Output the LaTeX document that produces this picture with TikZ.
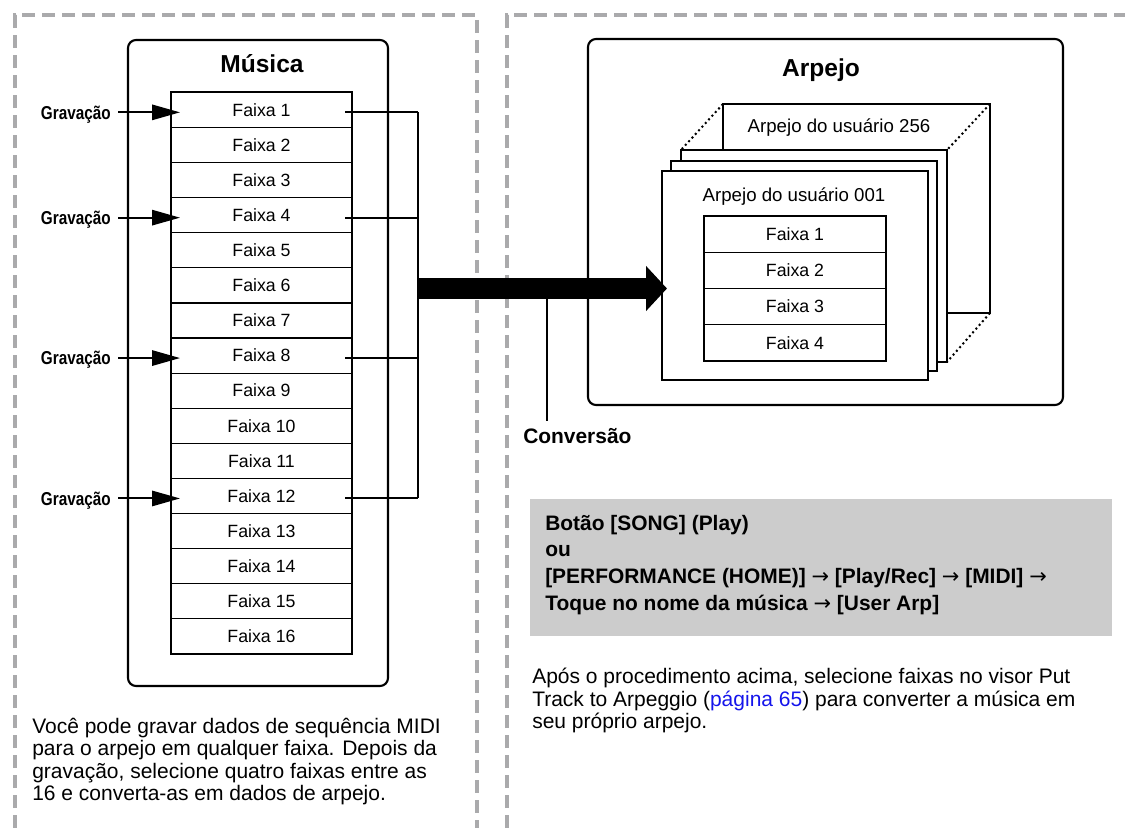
\documentclass[tikz,border=0pt]{standalone}
\usepackage{fontspec}
\usepackage{graphicx}
\setmainfont{Liberation Sans}
\newfontfamily\arrowfont{DejaVu Sans}
\usetikzlibrary{arrows.meta,calc}
\definecolor{framegray}{RGB}{170,170,172}
\definecolor{boxgray}{RGB}{204,204,204}
\definecolor{linkblue}{RGB}{20,20,235}
\newcommand\myfs[1]{\fontsize{#1}{#1}\selectfont}
\newcommand\myarr{{\arrowfont\mdseries →}}
\begin{document}
\begin{tikzpicture}[x=0.75pt,y=-0.75pt,
  frame/.style={draw=framegray, line width=3pt, dash pattern=on 10pt off 5pt},
  panel/.style={draw, line width=1.6pt, rounded corners=6pt, inner sep=0pt, outer sep=0pt},
  cell/.style={draw, line width=0.9pt, minimum width=135.75pt, minimum height=26.33pt, inner sep=0pt, outer sep=0pt, font=\myfs{13.3pt}},
  acell/.style={draw, line width=0.9pt, minimum width=136.5pt, minimum height=27.2pt, inner sep=0pt, outer sep=0pt, font=\myfs{13.3pt}},
  card/.style={draw, fill=white, line width=1.7pt, inner sep=0pt, outer sep=0pt, minimum width=199.5pt},
  cardtext/.style={font=\myfs{14pt}, inner sep=0pt, anchor=base},
  title/.style={font=\bfseries\myfs{18.4pt}, inner sep=0pt, anchor=base},
  grav/.style={font=\bfseries\myfs{14pt}, inner sep=0pt, anchor=east, text height=10pt, text depth=0pt},
  gravarrow/.style={line width=1.5pt, -{Triangle[length=21pt,width=11.5pt]}},
  link/.style={line width=1.5pt},
  bigarrow/.style={line width=15.75pt, -{Triangle[length=15.75pt,width=33pt]}},
  dots/.style={line width=1.5pt, dash pattern=on 1.5pt off 2.2pt},
  body/.style={font=\myfs{15.75pt}, inner sep=0pt, anchor=base west},
  steptext/.style={font=\bfseries\myfs{15.7pt}, inner sep=0pt, anchor=base west}
]
\useasboundingbox (0,0) rectangle (1125,828);

% dashed frames
\draw[frame] (15,828) -- (15,15) -- (477,15) -- (477,828);
\draw[frame] (507,828) -- (507,15) -- (1125,15);

% left panel
\node[panel, minimum width=195pt, minimum height=484.5pt] (musica) at (258,363) {};
\node[title] (musicatitle) at (262,72) {Música};
\foreach \i in {1,...,16} {
  \node[cell] (t\i) at (261.5,{92.3+35.1*(\i-0.5)}) {Faixa \i};
}
\draw[line width=1.4pt] (t1.north west) rectangle (t16.south east);

\foreach \i in {1,4,8,12} {
  \node[grav] (g\i) at (111,{92.3+35.1*(\i-0.5)+2.5}) {\scalebox{0.82}[1]{Gravação}};
  \draw[gravarrow] ($(g\i.east)+(7,0)$) -- ($(t\i.west |- g\i.east)+(9,0)$);
  \coordinate (b\i) at (418,{92.3+35.1*(\i-0.5)+2.5});
  \draw[link] ($(t\i.east |- b\i)+(-7,0)$) -- (b\i);
}
\draw[link] (b1) -- (b12);

% right panel
\node[panel, minimum width=356.25pt, minimum height=274.5pt] (arpejo) at (825.5,222) {};
\node[title] (arpejotitle) at (821,76) {Arpejo};

\node[card, minimum width=200.25pt, minimum height=156.75pt] (c256) at (856.5,208.5) {};
\node[cardtext] (c256t) at (839,132) {Arpejo do usuário 256};
\node[card, minimum height=159pt] (c3) at (814,256) {};
\node[card, minimum height=157.5pt] (c2) at (804,266) {};
\node[card, minimum height=156.75pt] (c001) at (795,275.5) {};
\node[cardtext] (c001t) at (794,201) {Arpejo do usuário 001};
\draw[dots] (c256.north west) -- (c3.north west);
\draw[dots] (c256.north east) -- (c3.north east);
\draw[dots] (c256.south east) -- (c3.south east);

\foreach \i in {1,...,4} {
  \node[acell] (a\i) at (795,{216+36.25*(\i-0.5)}) {Faixa \i};
}

% conversion arrow
\coordinate (bx) at (418,288.5);
\draw[bigarrow] (bx) -- ($(c001.west |- bx)+(5,0)$);
\coordinate (cv) at (547,288.5);
\coordinate (cvend) at (547,421);
\draw[line width=0.8pt] (cv) -- (cvend);
\node[title, font=\bfseries\myfs{15.7pt}, anchor=base west] (conv) at (523,443) {Conversão};

% grey procedure box
\node[fill=boxgray, minimum width=436.5pt, minimum height=102.75pt, inner sep=0pt] (steps) at (821,567.5) {};
\node[steptext] (s1) at (545,530) {Botão [SONG] (Play)};
\node[steptext] (s2) at (545,556.5) {ou};
\node[steptext] (s3) at (545,583) {[PERFORMANCE (HOME)] \myarr{} [Play/Rec] \myarr{} [MIDI] \myarr};
\node[steptext] (s4) at (545,610) {Toque no nome da música \myarr{} [User Arp]};

% body texts
\node[body] (l1) at (32,733) {Você pode gravar dados de sequência MIDI};
\node[body] (l2) at (32,755.5) {para o arpejo em qualquer faixa. Depois da};
\node[body] (l3) at (32,778) {gravação, selecione quatro faixas entre as};
\node[body] (l4) at (32,800.5) {16 e converta-as em dados de arpejo.};

\node[body] (r1) at (532,683.5) {Após o procedimento acima, selecione faixas no visor Put};
\node[body] (r2) at (532,706) {Track to Arpeggio ({\color{linkblue}página 65}) para converter a música em};
\node[body] (r3) at (532,728.5) {seu próprio arpejo.};
\end{tikzpicture}
\end{document}
